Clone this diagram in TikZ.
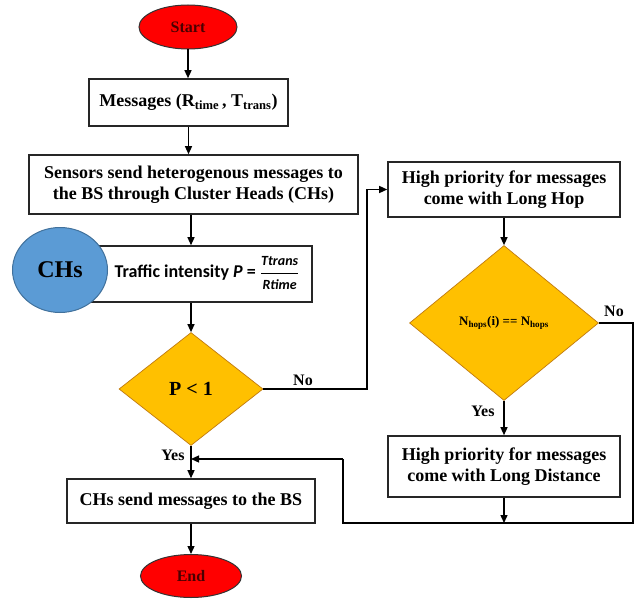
\documentclass[tikz,border=0pt]{standalone}
\usepackage{fontspec}
\setmainfont{Liberation Serif}
\newfontfamily\calib{Carlito}
\usetikzlibrary{shapes.geometric,arrows.meta}
\definecolor{termred}{HTML}{FF0000}
\definecolor{termtext}{HTML}{4A0000}
\definecolor{decfill}{HTML}{FFC000}
\definecolor{decedge}{HTML}{C07A10}
\definecolor{chfill}{HTML}{5B9BD5}
\definecolor{chedge}{HTML}{41719C}
\begin{document}
\begin{tikzpicture}[x=1pt,y=-1pt,
  box/.style={draw=black!85, line width=1.6pt, fill=white, align=center, inner sep=0pt,
    font=\bfseries\fontsize{18}{21.5}\selectfont},
  term/.style={ellipse, draw=black!80, line width=1pt, fill=termred, inner sep=0pt,
    text=termtext, font=\bfseries\fontsize{16}{18}\selectfont},
  dec/.style={diamond, draw=decedge, line width=0.7pt, fill=decfill, inner sep=0pt},
  arr/.style={-{Triangle[length=8pt,width=7pt]}, line width=1.3pt},
  ln/.style={line width=1.3pt},
  lbl/.style={font=\bfseries\fontsize{16}{18}\selectfont}]
\useasboundingbox (0,0) rectangle (639,599);

\node[term, minimum width=98pt, minimum height=44pt] (start) at (188,27) {Start};
\node[box, minimum width=199pt, minimum height=47pt] (msg) at (188.5,102.5)
  {Messages (R\textsubscript{time}\,, T\textsubscript{trans})};
\node[box, minimum width=329pt, minimum height=59pt] (sens) at (193.5,184.5)
  {Sensors send heterogenous messages to\\the BS through Cluster Heads (CHs)};
\node[box, minimum width=227pt, minimum height=56pt] (traf) at (198.5,274) {};
\node[ellipse, fill=chfill, draw=chedge, line width=1pt, minimum width=95pt, minimum height=85pt,
  inner sep=0pt, font=\bfseries\fontsize{24}{26}\selectfont] (chs) at (60,270) {CHs};
\node[font=\calib\bfseries\fontsize{18}{20}\selectfont] (traftext) at (207,273)
  {Traffic intensity \textit{P} = $\displaystyle\frac{\mbox{\fontsize{14}{15}\selectfont\itshape Ttrans}}{\mbox{\fontsize{14}{15}\selectfont\itshape Rtime}}$};

\node[dec, minimum width=144pt, minimum height=113pt, font=\bfseries\fontsize{20}{24}\selectfont] (d1) at (191,389) {P < 1};
\node[box, minimum width=232pt, minimum height=55pt] (lh) at (504,189.5)
  {High priority for messages\\come with Long Hop};
\node[dec, minimum width=189pt, minimum height=155pt, font=\bfseries\fontsize{13}{15}\selectfont] (d2) at (504,323)
  {N\textsubscript{hops}(i) == N\textsubscript{hops}};
\node[box, minimum width=232pt, minimum height=61pt] (ld) at (504,466.5)
  {High priority for messages\\come with Long Distance};
\node[box, minimum width=248pt, minimum height=44pt] (cs) at (191,501)
  {CHs send messages to the BS};
\node[term, minimum width=101pt, minimum height=43pt] (end) at (191,576) {End};

\coordinate (b1) at (367,389);
\coordinate (r) at (633,523);
\coordinate (l) at (343,459);

\draw[arr] (start.south) -- (start.south |- msg.north);
\draw[arr] (msg.south) -- (msg.south |- sens.north);
\draw[arr] (sens.south -| d1.north) -- (traf.north -| d1.north);
\draw[arr] (traf.south -| d1.north) -- (d1.north);
\draw[arr] (d1.east) -- (b1) |- (lh.west);
\draw[arr] (lh.south) -- (d2.north);
\draw[arr] (d2.south) -- (ld.north);
\draw[ln] (d2.east) -| (r) -- (r -| l) -- (l);
\draw[arr] (l) -- (l -| cs.north);
\draw[arr] (ld.south) -- (ld.south |- r);
\draw[arr] (d1.south) -- (cs.north);
\draw[arr] (cs.south) -- (end.north);

\node[lbl] (no1) at (303,380) {No};
\node[lbl] (no2) at (614,311) {No};
\node[lbl] (yes1) at (173,455) {Yes};
\node[lbl] (yes2) at (483,411) {Yes};
\end{tikzpicture}
\end{document}
